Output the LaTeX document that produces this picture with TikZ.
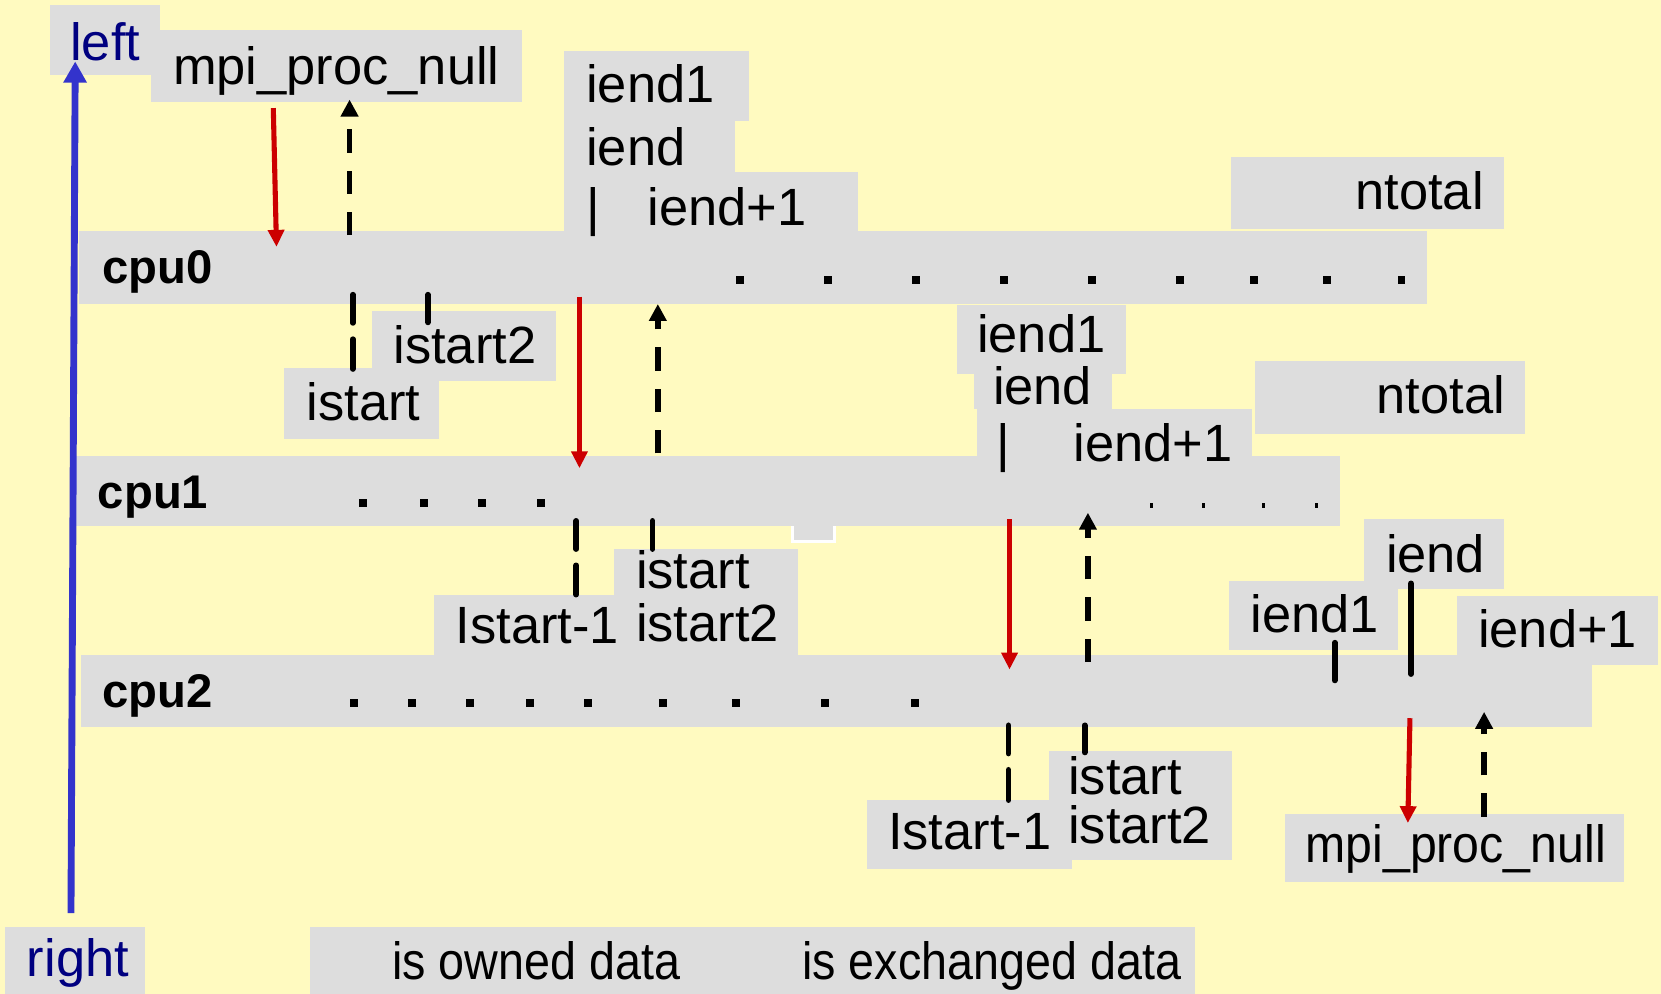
\documentclass[tikz,border=0pt]{standalone}
\usepackage{fontspec}
\setmainfont{Liberation Sans}
\newfontfamily\narrowf[FakeStretch=0.89]{Liberation Sans}
\newfontfamily\narrowg[FakeStretch=0.92]{Liberation Sans}
\usetikzlibrary{arrows.meta}
\definecolor{bgyellow}{HTML}{FFFAC0}
\definecolor{boxgrey}{HTML}{DDDDDD}
\definecolor{redarr}{HTML}{CC0000}
\definecolor{bluearr}{HTML}{3333CC}
\definecolor{navytext}{HTML}{000080}
\begin{document}
\begin{tikzpicture}[x=0.5pt,y=-0.5pt,
  lbl/.style={inner sep=0pt, anchor=base west, font=\fontsize{24.75}{29}\selectfont},
  lblr/.style={lbl, anchor=base east},
  sidelbl/.style={lbl, text=navytext},
  narrowlbl/.style={inner sep=0pt, anchor=base west, font=\narrowf\fontsize{24.75}{29}\selectfont},
  narrowlblg/.style={inner sep=0pt, anchor=base west, font=\narrowg\fontsize{24.75}{29}\selectfont},
  cpulbl/.style={inner sep=0pt, anchor=base west, font=\fontsize{22.3}{26}\selectfont\bfseries},
  greybox/.style={fill=boxgrey},
  redarrow/.style={draw=redarr, line width=2.4pt, -{Triangle[width=7.5pt,length=8pt]}},
  dasharrow/.style={draw=black, line width=2.7pt, dash pattern=on 11pt off 8.5pt, -{Triangle[width=8pt,length=8pt]}},
  tickline/.style={draw=black, line width=2.7pt, line cap=round},
  dashtick/.style={tickline, dash pattern=on 13.3pt off 7.7pt on 20pt off 20pt},
  bluearrow/.style={draw=bluearr, line width=3.25pt, -{Triangle[width=10.5pt,length=10pt]}}
]
\fill[bgyellow] (0,0) rectangle (1568,938);
\useasboundingbox (0,0) rectangle (1568,938);

% ---------- grey boxes ----------
\fill[greybox] (47,5) rectangle (151,71);
\fill[greybox] (143,28) rectangle (493,96);
\fill[greybox] (532,48) rectangle (707,114);
\fill[greybox] (532,114) rectangle (694,162);
\fill[greybox] (532,162) rectangle (810,218);
\fill[greybox] (1162,148) rectangle (1420,216);
\fill[greybox] (75,218) rectangle (1347,287);
\fill[greybox] (351,294) rectangle (525,360);
\fill[greybox] (268,347) rectangle (414,414);
\fill[greybox] (903,288) rectangle (1063,353);
\fill[greybox] (919,353) rectangle (1050,386);
\fill[greybox] (922,386) rectangle (1182,430);
\fill[greybox] (1185,341) rectangle (1440,410);
\filldraw[fill=boxgrey, draw=white, line width=1.2pt] (748,490) rectangle (788,511);
\fill[greybox] (72,430) rectangle (1265,497);
\fill[greybox] (410,562) rectangle (580,618);
\fill[greybox] (580,518) rectangle (753,618);
\fill[greybox] (1288,490) rectangle (1420,556);
\fill[greybox] (1160,548) rectangle (1320,614);
\fill[greybox] (1375,563) rectangle (1565,628);
\fill[greybox] (76,618) rectangle (1503,686);
\fill[greybox] (818,755) rectangle (1012,820);
\fill[greybox] (990,709) rectangle (1163,812);
\fill[greybox] (1213,768) rectangle (1533,833);
\fill[greybox] (5,875) rectangle (137,938);
\fill[greybox] (293,875) rectangle (1128,938);

% ---------- labels ----------
\node[sidelbl] (left) at (66,57) {left};
\node[lbl] (mpitop) at (163,80) {mpi\_proc\_null};
\node[lbl] (iendonea) at (553,97) {iend1};
\node[lbl] (ienda) at (553,156) {iend};
\node[lbl] (bara) at (553,213) {|};
\node[lbl] (iendpa) at (611,213) {iend+1};
\node[lblr] (ntotala) at (1401,198) {ntotal};
\node[cpulbl] (cpu0) at (96,268) {cpu0};
\node[lbl] (istarttwoa) at (371,343) {istart2};
\node[lbl] (istarta) at (289,397) {istart};

\node[lbl] (iendoneb) at (922,333) {iend1};
\node[lbl] (iendb) at (937,382) {iend};
\node[lbl] (barb) at (940,436) {|};
\node[lbl] (iendpb) at (1013,436) {iend+1};
\node[lblr] (ntotalb) at (1421,390) {ntotal};
\node[cpulbl] (cpu1) at (92,480) {cpu1};
\node[lbl] (istmb) at (430,607) {Istart-1};
\node[lbl] (istartb) at (600,556) {istart};
\node[lbl] (istarttwob) at (600,606) {istart2};

\node[lbl] (iendc) at (1308,540) {iend};
\node[lbl] (iendonec) at (1180,597) {iend1};
\node[lbl] (iendpc) at (1395,611) {iend+1};
\node[cpulbl] (cpu2) at (96,668) {cpu2};
\node[lbl] (istmc) at (838,802) {Istart-1};
\node[lbl] (istartc) at (1008,750) {istart};
\node[lbl] (istarttwoc) at (1008,796) {istart2};
\node[narrowlblg] (mpibot) at (1232,814) {mpi\_proc\_null};

\node[sidelbl] (right) at (25,922) {right};
\node[narrowlbl] (owned) at (370,925) {is owned data};
\node[narrowlbl] (exch) at (757,925) {is exchanged data};

% ---------- dots ----------
\foreach \x in {699,782,865,948,1031,1114,1184,1253,1323}
  \fill (\x-3.75,264-3.75) rectangle ++(7.5,7.5);
\foreach \x in {343,400,455,511}
  \fill (\x-3.75,475-3.75) rectangle ++(7.5,7.5);
\foreach \x in {1087,1136,1193,1243}
  \fill (\x-1.25,477-2.5) rectangle ++(2.5,5);
\foreach \x in {334,389,444,500,555,626,695,779,864}
  \fill (\x-3.75,664-3.75) rectangle ++(7.5,7.5);

% ---------- tick marks ----------
\draw[dashtick] (333,278.2) -- (333,348.3);
\draw[tickline] (404,278.2) -- (404,304.3);
\draw[dashtick] (544,491.7) -- (544,561.3);
\draw[tickline] (616,491.7) -- (616,518.3);
\draw[dashtick] (952,684.7) -- (952,755.3);
\draw[tickline] (1024,684.7) -- (1024,710.3);
\draw[tickline] (1260,606.7) -- (1260,642.3);
\draw[tickline] (1332,550.7) -- (1332,636.3);

% ---------- arrows ----------
\coordinate (blues) at (67,862);
\coordinate (bluet) at (71,58);
\draw[bluearrow] (blues) -- (bluet);

\coordinate (ra1) at (258,102);  \coordinate (rb1) at (261,233);
\coordinate (da1) at (330,222);  \coordinate (db1) at (330,94);
\coordinate (ra2) at (547,280);  \coordinate (rb2) at (547,442);
\coordinate (da2) at (621,428);  \coordinate (db2) at (621,287);
\coordinate (ra3) at (953,490);  \coordinate (rb3) at (953,632);
\coordinate (da3) at (1027,625); \coordinate (db3) at (1027,484);
\coordinate (ra4) at (1331,678); \coordinate (rb4) at (1329,777);
\coordinate (da4) at (1401,771); \coordinate (db4) at (1401,672);

\draw[redarrow] (ra1) -- (rb1);
\draw[redarrow] (ra2) -- (rb2);
\draw[redarrow] (ra3) -- (rb3);
\draw[redarrow] (ra4) -- (rb4);
\draw[dasharrow] (da1) -- (db1);
\draw[dasharrow] (da2) -- (db2);
\draw[dasharrow] (da3) -- (db3);
\draw[dasharrow] (da4) -- (db4);
\end{tikzpicture}
\end{document}
